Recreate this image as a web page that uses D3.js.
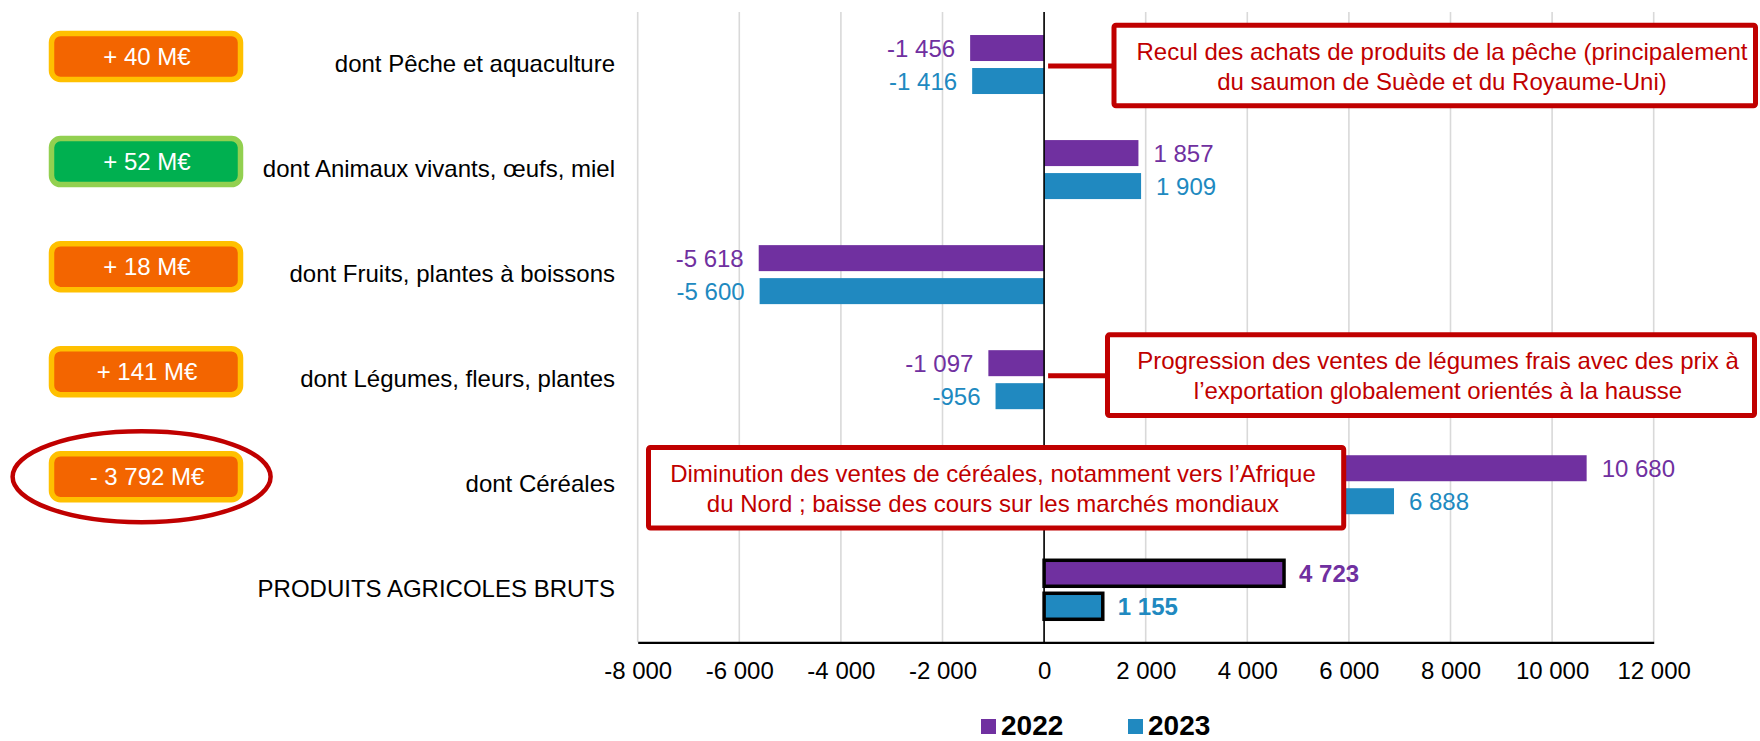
<!DOCTYPE html>
<html>
<head>
<meta charset="utf-8">
<script src="https://cdn.jsdelivr.net/npm/d3@7"></script>
<style>
  body { margin: 0; background: #fff; }
  svg text { font-family: "Liberation Sans", Arial, sans-serif; }
</style>
</head>
<body>
<div class="chart"></div>
<script>
var categories = [
  "dont Pêche et aquaculture",
  "dont Animaux vivants, œufs, miel",
  "dont Fruits, plantes à boissons",
  "dont Légumes, fleurs, plantes",
  "dont Céréales",
  "PRODUITS AGRICOLES BRUTS"
];
var years = ["2022", "2023"];
var values2022 = [-1456, 1857, -5618, -1097, 10680, 4723];
var values2023 = [-1416, 1909, -5600, -956, 6888, 1155];
var totalCategory = "PRODUITS AGRICOLES BRUTS";
var xTicks = [-8000, -6000, -4000, -2000, 0, 2000, 4000, 6000, 8000, 10000, 12000];

// evolution badges shown left of each category
var badgeLabels = ["+ 40 M€", "+ 52 M€", "+ 18 M€", "+ 141 M€", "- 3 792 M€"];
var badgeFavourable = [false, true, false, false, false];
var circledBadge = 4;

var noteTexts = [
  ["Recul des achats de produits de la pêche (principalement", "du saumon de Suède et du Royaume-Uni)"],
  ["Progression des ventes de légumes frais avec des prix à", "l’exportation globalement orientés à la hausse"],
  ["Diminution des ventes de céréales, notamment vers l’Afrique", "du Nord ; baisse des cours sur les marchés mondiaux"]
];

var svgWidth = 1760;
var svgHeight = 741;

var colors = { "2022": "#7030a0", "2023": "#2089c0" };
var red = "#c00000";

var svg = d3.select(".chart")
  .append("svg")
  .attr("width", svgWidth)
  .attr("height", svgHeight);

// Scales
var x = d3.scaleLinear()
  .domain([-8000, 12000])
  .range([637.7, 1653.7]);

var y = d3.scaleBand()
  .domain(categories)
  .range([12, 642.3]);

var yInner = d3.scaleBand()
  .domain(years)
  .range([y.bandwidth() / 2 - 29.5, y.bandwidth() / 2 + 29.5])
  .paddingInner(0.212);

var loc = d3.formatLocale({ decimal: ",", thousands: " ", grouping: [3], currency: ["", "€"], minus: "-" });
var fmt = loc.format(",d");

var rows = categories.map(function (c, i) {
  return { cat: c, values: [
    { year: "2022", value: values2022[i] },
    { year: "2023", value: values2023[i] }
  ] };
});

// Gridlines
svg.append("g")
  .selectAll("line")
  .data(xTicks)
  .enter()
  .append("line")
  .attr("x1", d => x(d))
  .attr("x2", d => x(d))
  .attr("y1", y.range()[0])
  .attr("y2", y.range()[1])
  .attr("stroke", "#d9d9d9")
  .attr("stroke-width", 1.6);

// Bars
var groups = svg.append("g")
  .selectAll("g")
  .data(rows)
  .enter()
  .append("g")
  .attr("transform", d => `translate(0, ${y(d.cat)})`);

groups.selectAll("rect")
  .data(d => d.values.map(v => Object.assign({ cat: d.cat }, v)))
  .enter()
  .append("rect")
  .attr("x", d => x(Math.min(0, d.value)))
  .attr("width", d => Math.abs(x(d.value) - x(0)))
  .attr("y", d => yInner(d.year))
  .attr("height", yInner.bandwidth())
  .attr("fill", d => colors[d.year])
  .attr("stroke", d => d.cat === totalCategory ? "#000" : "none")
  .attr("stroke-width", 3.5);

groups.selectAll("text")
  .data(d => d.values.map(v => Object.assign({ cat: d.cat }, v)))
  .enter()
  .append("text")
  .attr("x", d => d.value < 0 ? x(d.value) - 15 : x(d.value) + 15)
  .attr("y", d => yInner(d.year) + yInner.bandwidth() / 2)
  .attr("dy", "0.36em")
  .attr("text-anchor", d => d.value < 0 ? "end" : "start")
  .attr("font-size", 24)
  .attr("font-weight", d => d.cat === totalCategory ? "bold" : "normal")
  .attr("fill", d => colors[d.year])
  .text(d => fmt(d.value));

// Zero line
svg.append("line")
  .attr("x1", x(0)).attr("x2", x(0))
  .attr("y1", y.range()[0]).attr("y2", y.range()[1])
  .attr("stroke", "#000")
  .attr("stroke-width", 1.6);

// Bottom axis
var bottomAxis = d3.axisBottom(x)
  .tickValues(xTicks)
  .tickFormat(fmt)
  .tickSize(0)
  .tickSizeOuter(0)
  .tickPadding(20);

var axisG = svg.append("g")
  .attr("transform", `translate(0, ${y.range()[1]})`)
  .call(bottomAxis);
axisG.select(".domain").attr("stroke", "#000").attr("stroke-width", 2.2);
axisG.selectAll("text")
  .attr("font-family", "Liberation Sans, Arial, sans-serif")
  .attr("font-size", 24)
  .attr("fill", "#000");

// Category labels
svg.append("g")
  .selectAll("text")
  .data(categories)
  .enter()
  .append("text")
  .attr("x", 615)
  .attr("y", d => y(d) + y.bandwidth() / 2)
  .attr("dy", "0.32em")
  .attr("text-anchor", "end")
  .attr("font-size", 24)
  .attr("fill", "#000")
  .text(d => d);

// Badges
var badges = svg.append("g")
  .selectAll("g")
  .data(badgeLabels)
  .enter()
  .append("g")
  .attr("transform", (d, i) => `translate(146, ${y(categories[i]) + y.bandwidth() / 2 - 8})`);

badges.append("rect")
  .attr("x", -94.5)
  .attr("y", -23)
  .attr("width", 189)
  .attr("height", 46)
  .attr("rx", 9)
  .attr("fill", (d, i) => badgeFavourable[i] ? "#00b050" : "#f36500")
  .attr("stroke", (d, i) => badgeFavourable[i] ? "#92d050" : "#ffc000")
  .attr("stroke-width", 5.5);

badges.append("text")
  .attr("x", 1)
  .attr("dy", "0.36em")
  .attr("text-anchor", "middle")
  .attr("font-size", 24)
  .attr("fill", "#fff")
  .text(d => d);

svg.append("ellipse")
  .attr("cx", 141.6)
  .attr("cy", y(categories[circledBadge]) + y.bandwidth() / 2 - 8)
  .attr("rx", 129)
  .attr("ry", 45.5)
  .attr("fill", "none")
  .attr("stroke", red)
  .attr("stroke-width", 4.5);

// Annotation boxes
var notes = [
  { lines: noteTexts[0], cat: categories[0], x0: 1114, x1: 1755.5, dyBox: 1, tx: 1442, link: true },
  { lines: noteTexts[1], cat: categories[3], x0: 1107.5, x1: 1754.5, dyBox: -4.5, tx: 1438, link: true },
  { lines: noteTexts[2], cat: categories[4], x0: 648.5, x1: 1343.7, dyBox: 3, tx: 993, link: false }
];

var noteG = svg.append("g")
  .selectAll("g")
  .data(notes)
  .enter()
  .append("g")
  .attr("transform", d => `translate(0, ${y(d.cat) + y.bandwidth() / 2 + d.dyBox})`);

noteG.filter(d => d.link)
  .append("line")
  .attr("x1", x(0) + 4)
  .attr("x2", d => d.x0)
  .attr("y1", 0.5)
  .attr("y2", 0.5)
  .attr("stroke", red)
  .attr("stroke-width", 5);

noteG.append("rect")
  .attr("x", d => d.x0)
  .attr("y", -40.3)
  .attr("width", d => d.x1 - d.x0)
  .attr("height", 80.6)
  .attr("rx", 2)
  .attr("fill", "#fff")
  .attr("stroke", red)
  .attr("stroke-width", 5);

noteG.each(function (d) {
  var g = d3.select(this);
  d.lines.forEach(function (line, k) {
    g.append("text")
      .attr("x", d.tx)
      .attr("y", k === 0 ? -6 : 24)
      .attr("text-anchor", "middle")
      .attr("font-size", 24)
      .attr("fill", red)
      .text(line);
  });
});

// Legend
var legendX = [981, 1128];
var legend = svg.append("g")
  .selectAll("g")
  .data(years)
  .enter()
  .append("g")
  .attr("transform", (d, i) => `translate(${legendX[i]}, 719)`);

legend.append("rect")
  .attr("width", 15)
  .attr("height", 15)
  .attr("fill", d => colors[d]);

legend.append("text")
  .attr("x", 20)
  .attr("y", 15.5)
  .attr("font-size", 28)
  .attr("font-weight", "bold")
  .attr("fill", "#000")
  .text(d => d);
</script>
</body>
</html>
